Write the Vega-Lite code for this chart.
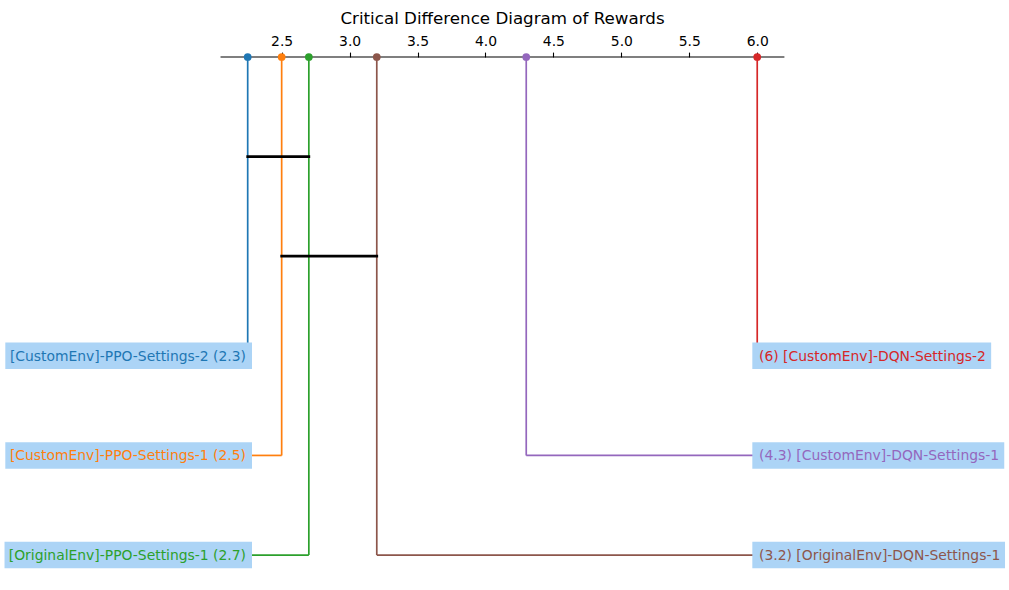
{
  "$schema": "https://vega.github.io/schema/vega-lite/v6.json",
  "width": 1009,
  "height": 533,
  "autosize": {"type": "none"},
  "padding": {"left": 0, "right": 0, "top": 57, "bottom": 0},
  "background": "white",
  "title": {"text": "Critical Difference Diagram of Rewards", "font": "DejaVu Sans", "fontSize": 16.7, "fontWeight": "normal", "color": "black", "anchor": "middle", "offset": 7, "dx": -2},
  "config": {"view": {"stroke": null}},
  "layer": [
    {
      "data": {"values": [{}]},
      "transform": [
        {"calculate": "2.05", "as": "lo"},
        {"calculate": "6.2", "as": "hi"},
        {"calculate": "0", "as": "level"}
      ],
      "mark": {"type": "rule", "color": "black", "strokeWidth": 1.1},
      "encoding": {
        "x": {"field": "lo", "type": "quantitative", "title": null,
              "scale": {"domain": [0.427, 7.853], "nice": false, "zero": false},
              "axis": {"orient": "top", "title": null, "values": [2.5, 3, 3.5, 4, 4.5, 5, 5.5, 6], "format": ".1f", "domain": false, "grid": false,
                       "ticks": true, "tickColor": "black", "tickSize": 4.9, "tickWidth": 1.1,
                       "labelFont": "DejaVu Sans", "labelFontSize": 13.9, "labelColor": "black", "labelPadding": 3.5, "labelFlush": false, "labelOverlap": false}},
        "x2": {"field": "hi"},
        "y": {"field": "level", "type": "quantitative", "scale": {"domain": [0, 5.351], "reverse": true, "nice": false, "zero": false}, "axis": null}
      }
    },
    {
      "data": {"values": [
        {"name": "[CustomEnv]-PPO-Settings-2", "rank": 2.25},
        {"name": "[CustomEnv]-PPO-Settings-1", "rank": 2.5},
        {"name": "[OriginalEnv]-PPO-Settings-1", "rank": 2.7},
        {"name": "[OriginalEnv]-DQN-Settings-1", "rank": 3.2},
        {"name": "[CustomEnv]-DQN-Settings-1", "rank": 4.3},
        {"name": "[CustomEnv]-DQN-Settings-2", "rank": 6.0}
      ]},
      "transform": [
        {"window": [{"op": "row_number", "as": "order"}], "sort": [{"field": "rank", "order": "ascending"}]},
        {"calculate": "datum.order <= 3 ? 'left' : 'right'", "as": "side"},
        {"calculate": "datum.side == 'left' ? datum.order + 2 : 9 - datum.order", "as": "row"},
        {"calculate": "0", "as": "axis_level"},
        {"calculate": "datum.side == 'left' ? datum.name + ' (' + format(datum.rank, '.2~r') + ')' : '(' + format(datum.rank, '.2~r') + ') ' + datum.name", "as": "label"},
        {"calculate": "length(datum.label)*0.625 - 0.347*(length(datum.label)-length(replace(datum.label, regexp('[il]','g'), ''))) - 0.307*(length(datum.label)-length(replace(datum.label, regexp('[ .]','g'), ''))) - 0.264*(length(datum.label)-length(replace(datum.label, regexp('-','g'), ''))) - 0.234*(length(datum.label)-length(replace(datum.label, regexp('[()t]','g'), ''))) - 0.235*(length(split(datum.label,'['))+length(split(datum.label,']'))-2) - 0.214*(length(datum.label)-length(replace(datum.label, regexp('r','g'), ''))) - 0.104*(length(datum.label)-length(replace(datum.label, regexp('s','g'), ''))) - 0.033*(length(datum.label)-length(replace(datum.label, regexp('v','g'), ''))) + 0.073*(length(datum.label)-length(replace(datum.label, regexp('C','g'), ''))) + 0.145*(length(datum.label)-length(replace(datum.label, regexp('[NDOQ]','g'), ''))) + 0.349*(length(datum.label)-length(replace(datum.label, regexp('m','g'), '')))", "as": "em"},
        {"calculate": "datum.em * 13.89", "as": "wpx"},
        {"calculate": "datum.side == 'left' ? 2.275 : 5.975", "as": "edge"},
        {"calculate": "datum.side == 'left' ? 0.427 + (240.5 - datum.wpx)/135.87 : 5.9639", "as": "box_lo"},
        {"calculate": "datum.side == 'left' ? 2.2817 : 0.427 + (765 + datum.wpx)/135.87", "as": "box_hi"},
        {"calculate": "datum.side == 'left' ? 2.2376 : 6.0132", "as": "text_x"},
        {"calculate": "datum.row - 0.1335", "as": "box_top"},
        {"calculate": "datum.row + 0.1335", "as": "box_bottom"}
      ],
      "layer": [
        {
          "mark": {"type": "rule", "strokeWidth": 1.7},
          "encoding": {
            "x": {"field": "rank", "type": "quantitative", "title": null},
            "y": {"field": "axis_level", "type": "quantitative", "axis": null},
            "y2": {"field": "row"},
            "color": {"field": "name", "type": "nominal", "legend": null,
                      "scale": {"domain": ["[CustomEnv]-PPO-Settings-2", "[CustomEnv]-PPO-Settings-1", "[OriginalEnv]-PPO-Settings-1", "[OriginalEnv]-DQN-Settings-1", "[CustomEnv]-DQN-Settings-1", "[CustomEnv]-DQN-Settings-2"],
                                "range": ["#1f77b4", "#ff7f0e", "#2ca02c", "#8c564b", "#9467bd", "#d62728"]}}
          }
        },
        {
          "mark": {"type": "rule", "strokeWidth": 1.7},
          "encoding": {
            "x": {"field": "rank", "type": "quantitative", "title": null},
            "x2": {"field": "edge"},
            "y": {"field": "row", "type": "quantitative", "axis": null},
            "color": {"field": "name", "type": "nominal", "legend": null}
          }
        },
        {
          "mark": {"type": "circle", "size": 60, "opacity": 1},
          "encoding": {
            "x": {"field": "rank", "type": "quantitative", "title": null},
            "y": {"field": "axis_level", "type": "quantitative", "axis": null},
            "color": {"field": "name", "type": "nominal", "legend": null}
          }
        },
        {
          "mark": {"type": "rect", "color": "#acd4f6"},
          "encoding": {
            "x": {"field": "box_lo", "type": "quantitative", "title": null},
            "x2": {"field": "box_hi"},
            "y": {"field": "box_top", "type": "quantitative", "axis": null},
            "y2": {"field": "box_bottom"}
          }
        },
        {
          "transform": [{"filter": "datum.side == 'left'"}],
          "mark": {"type": "text", "align": "right", "baseline": "middle", "font": "DejaVu Sans", "fontSize": 13.9, "dy": 1},
          "encoding": {
            "x": {"field": "text_x", "type": "quantitative", "title": null},
            "y": {"field": "row", "type": "quantitative", "axis": null},
            "text": {"field": "label"},
            "color": {"field": "name", "type": "nominal", "legend": null}
          }
        },
        {
          "transform": [{"filter": "datum.side == 'right'"}],
          "mark": {"type": "text", "align": "left", "baseline": "middle", "font": "DejaVu Sans", "fontSize": 13.9, "dy": 1},
          "encoding": {
            "x": {"field": "text_x", "type": "quantitative", "title": null},
            "y": {"field": "row", "type": "quantitative", "axis": null},
            "text": {"field": "label"},
            "color": {"field": "name", "type": "nominal", "legend": null}
          }
        }
      ]
    },
    {
      "data": {"values": [
        {"lo": 2.25, "hi": 2.7, "level": 1},
        {"lo": 2.5, "hi": 3.2, "level": 2}
      ]},
      "mark": {"type": "rule", "color": "black", "strokeWidth": 2.7, "strokeCap": "square"},
      "encoding": {
        "x": {"field": "lo", "type": "quantitative", "title": null},
        "x2": {"field": "hi"},
        "y": {"field": "level", "type": "quantitative", "axis": null}
      }
    }
  ]
}
